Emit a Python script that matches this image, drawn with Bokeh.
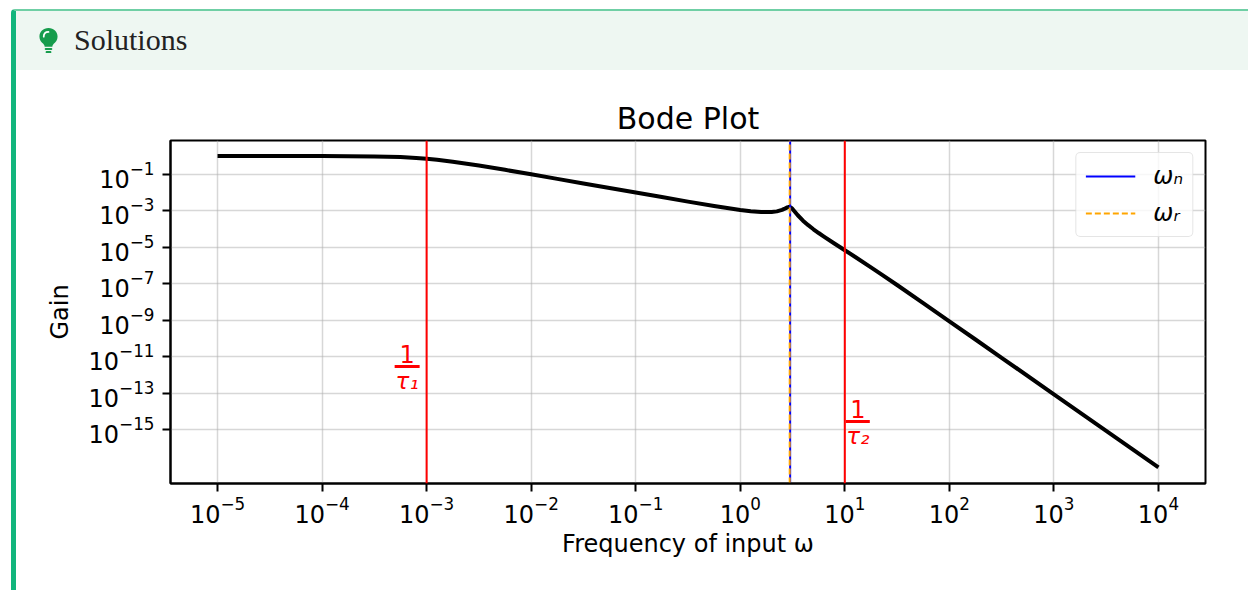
from bokeh.plotting import figure
from bokeh.models import (Range1d, FixedTicker, Span, Label, Legend, LegendItem, Div)
from bokeh.layouts import column
from bokeh.embed import file_html
from bokeh.resources import INLINE

# ---- data ----
omega = [1e-5, 3.162e-5, 5.623e-5, 1e-4, 1.778e-4, 3.162e-4, 5.623e-4, 7.943e-4, 1e-3,
         1.259e-3, 1.778e-3, 3.162e-3, 5.623e-3, 1e-2, 1.778e-2, 3.162e-2, 5.623e-2, 0.1,
         0.1778, 0.3162, 0.5623, 1.0, 1.259, 1.585, 1.995, 2.239, 2.512, 2.630, 2.818,
         2.884, 2.97, 3.0, 3.090, 3.162, 3.311, 3.548, 3.981, 4.467, 5.012, 5.623, 6.310,
         7.943, 10.0, 12.59, 17.78, 22.39, 31.62, 56.23, 100.0, 177.8, 316.2, 1000.0,
         3162.0, 10000.0]
gain = [1.0, 0.9995, 0.9984, 0.995, 0.9846, 0.9535, 0.8716, 0.783, 0.7071,
        0.622, 0.4902, 0.3015, 0.1751, 0.0995, 0.05615, 0.03161, 0.01779, 0.01001,
        5.643e-3, 3.197e-3, 1.838e-3, 1.116e-3, 9.517e-4, 8.555e-4, 8.573e-4, 9.324e-4,
        1.127e-3, 1.267e-3, 1.542e-3, 1.612e-3, 1.622e-3, 1.596e-3, 1.439e-3, 1.265e-3,
        9.246e-4, 5.726e-4, 2.895e-4, 1.632e-4, 9.788e-5, 6.098e-5, 3.887e-5, 1.633e-5,
        6.978e-6, 2.970e-6, 8.069e-7, 3.330e-7, 8.657e-8, 8.886e-9, 8.963e-10, 8.988e-11,
        8.997e-12, 9.0e-14, 9.0e-16, 9.0e-18]
break_freqs = [1e-3, 10.0]            # 1/tau1, 1/tau2
break_labels = ["τ₁", "τ₂"]
omega_n = 3.0
omega_r = 2.97
x_ticks = [1e-5, 1e-4, 1e-3, 1e-2, 1e-1, 1e0, 1e1, 1e2, 1e3, 1e4]
y_ticks = [1e-1, 1e-3, 1e-5, 1e-7, 1e-9, 1e-11, 1e-13, 1e-15]

FONT = "DejaVu Sans"
Y_LO, Y_HI = 10 ** -17.93, 10 ** 0.85

p = figure(width=1232, height=520, x_axis_type="log", y_axis_type="log",
           x_range=Range1d(10 ** -5.45, 10 ** 4.45),
           y_range=Range1d(Y_LO, Y_HI),
           output_backend="svg", toolbar_location=None,
           min_border_left=154, min_border_right=43, min_border_top=70, min_border_bottom=107)

p.title.text = "Bode Plot"
p.title.align = "center"
p.title.text_font = FONT
p.title.text_font_size = "30px"
p.title.text_font_style = "normal"
p.title.text_color = "black"
p.title.standoff = 9

p.outline_line_color = "black"
p.outline_line_width = 2
p.outline_line_alpha = 1

for ax, ticks in ((p.xaxis, x_ticks), (p.yaxis, y_ticks)):
    ax.ticker = FixedTicker(ticks=ticks, minor_ticks=[])
    ax.major_label_text_font = FONT
    ax.major_label_text_font_size = "24px"
    ax.major_label_text_color = "black"
    ax.axis_label_text_font = FONT
    ax.axis_label_text_font_size = "24px"
    ax.axis_label_text_font_style = "normal"
    ax.axis_label_text_color = "black"
    ax.major_tick_out = 8
    ax.major_tick_in = 0
    ax.major_tick_line_width = 2
    ax.minor_tick_out = 0
    ax.minor_tick_in = 0
    ax.axis_line_width = 2
    ax.major_label_standoff = 8

p.xaxis.major_label_standoff = 4
p.xaxis.axis_label = "Frequency of input ω"
p.yaxis.axis_label = "Gain"
p.xaxis.axis_label_standoff = 4
p.yaxis.axis_label_standoff = 12

for g in (p.xgrid, p.ygrid):
    g.grid_line_color = "#b0b0b0"
    g.grid_line_alpha = 0.5
    g.grid_line_width = 1.5
p.xgrid.ticker = FixedTicker(ticks=x_ticks)
p.ygrid.ticker = FixedTicker(ticks=y_ticks)

# main curve
p.line(omega, gain, line_color="black", line_width=4, line_join="round")

# break frequency lines
for b in break_freqs:
    p.add_layout(Span(location=b, dimension="height", line_color="red", line_width=2))

# omega_n / omega_r lines (full height of the axes)
r_n = p.line([omega_n, omega_n], [Y_LO, Y_HI], line_color="blue", line_width=2)
r_r = p.line([omega_r, omega_r], [Y_LO, Y_HI], line_color="orange", line_width=2,
             line_dash="6 3")

# fraction labels 1/tau
frac_y = [10 ** -11.52, 10 ** -14.53]
frac_dx = [-19.5, 13.0]
bar_half = [(-0.306, -0.067), (0.0096, 0.239)]
for b, fy, dx, lab, (a0, a1) in zip(break_freqs, frac_y, frac_dx, break_labels, bar_half):
    p.segment(x0=[b * 10 ** a0], x1=[b * 10 ** a1], y0=[fy], y1=[fy],
              line_color="red", line_width=3)
    p.add_layout(Label(x=b, y=fy, x_offset=dx, y_offset=3, text="1",
                       text_align="center", text_baseline="bottom",
                       text_font=FONT, text_font_size="24px", text_color="red"))
    p.add_layout(Label(x=b, y=fy, x_offset=dx, y_offset=-2, text=lab,
                       text_align="center", text_baseline="top",
                       text_font=FONT, text_font_size="23px", text_color="red",
                       text_font_style="italic"))

legend = Legend(items=[LegendItem(label="ωₙ", renderers=[r_n]),
                       LegendItem(label="ωᵣ", renderers=[r_r])],
                location="top_right")
legend.margin = 12
legend.padding = 9
legend.spacing = 9
legend.glyph_width = 50
legend.glyph_height = 28
legend.label_height = 28
legend.label_standoff = 18
legend.label_text_font = FONT
legend.label_text_font_size = "24px"
legend.label_text_font_style = "italic"
legend.label_text_color = "black"
legend.border_line_color = "#cccccc"
legend.border_line_width = 1.5
legend.background_fill_alpha = 0.8
if "border_radius" in Legend.properties():
    legend.border_radius = 5
p.add_layout(legend)

bulb = (
    '<svg width="21" height="27" viewBox="0 0 22 28" style="display:block">'
    '<path d="M11 1 C5.5 1 1.5 5 1.5 10 C1.5 13.5 3.5 15.8 5.5 17.5 C6.5 18.4 7 19.5 7 20.5 '
    'L15 20.5 C15 19.5 15.5 18.4 16.5 17.5 C18.5 15.8 20.5 13.5 20.5 10 C20.5 5 16.5 1 11 1 Z" fill="#169c4c"/>'
    '<path d="M6 10 C6 7 8 5 11 5" stroke="white" stroke-width="1.8" fill="none" stroke-linecap="round"/>'
    '<rect x="7" y="21.8" width="8" height="2.2" rx="1" fill="#169c4c"/>'
    '<rect x="8" y="25" width="6" height="2.2" rx="1" fill="#169c4c"/>'
    '</svg>'
)
header = Div(
    text=('<div style="display:flex;align-items:center;height:59px;width:1232px;'
          'padding-left:22px;box-sizing:border-box;background:#eef7f2;">'
          + bulb +
          '<span style="margin-left:15px;font-family:\'Liberation Serif\';font-size:30px;'
          'color:#222;">Solutions</span></div>'),
    width=1232, height=59, styles={"margin": "0", "padding": "0"})

layout = column(header, p, spacing=0,
                styles={"border-left": "5px solid #12b57c",
                        "border-top": "2px solid #6fcfa5",
                        "border-top-left-radius": "4px",
                        "margin-left": "11px", "margin-top": "9px"})

open("out.html", "w").write(file_html(layout, INLINE))
